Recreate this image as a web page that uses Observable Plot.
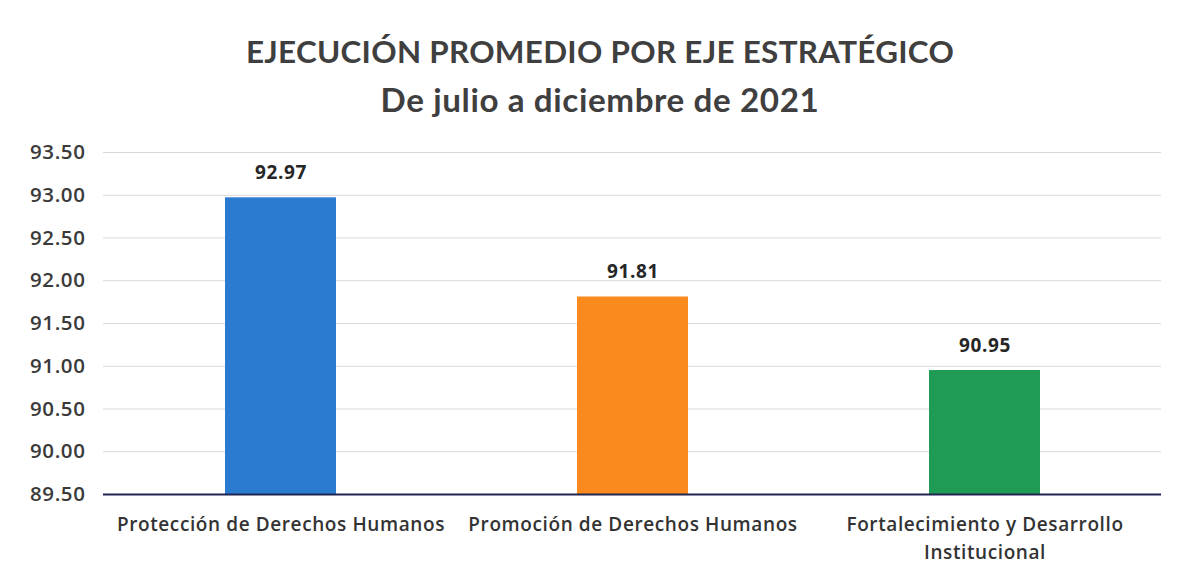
<!DOCTYPE html>
<html>
<head>
<meta charset="utf-8">
<script src="https://cdn.jsdelivr.net/npm/d3@7"></script>
<script src="https://cdn.jsdelivr.net/npm/@observablehq/plot@0.6"></script>
<style>
  html, body { margin: 0; padding: 0; background: #fff; }
  body { width: 1182px; height: 579px; overflow: hidden; font-family: Lato, "Open Sans", sans-serif; }
  #title { height: 130px; text-align: center; color: #3f3f3f; font-weight: 700; box-sizing: border-box; padding-top: 27px; padding-left: 18px; }
  #t1 { font-size: 31.4px; line-height: 48px; letter-spacing: 0.3px; }
  #t2 { font-size: 33.2px; line-height: 48px; letter-spacing: 0.6px; }
  #chart svg text { letter-spacing: 0.6px; }
</style>
</head>
<body>
<div id="title">
  <div id="t1">EJECUCIÓN PROMEDIO POR EJE ESTRATÉGICO</div>
  <div id="t2">De julio a diciembre de 2021</div>
</div>
<div id="chart"></div>
<script>
const categories = ["Protección de Derechos Humanos", "Promoción de Derechos Humanos", "Fortalecimiento y Desarrollo Institucional"];
const tickLabels = ["Protección de Derechos Humanos", "Promoción de Derechos Humanos", "Fortalecimiento y Desarrollo\nInstitucional"];
const values = [92.97, 91.81, 90.95];
const colors = ["#2b7bd0", "#fa8a1e", "#1f9b55"];
const yTicks = [89.5, 90, 90.5, 91, 91.5, 92, 92.5, 93, 93.5];

const data = categories.map((c, i) => ({category: c, value: values[i], color: colors[i]}));
const labelOf = new Map(categories.map((c, i) => [c, tickLabels[i]]));

const chart = Plot.plot({
  width: 1182,
  height: 449,
  marginLeft: 103,
  marginRight: 21,
  marginTop: 22,
  marginBottom: 85,
  style: {fontFamily: "'Open Sans', Lato, sans-serif", background: "#fff"},
  x: {domain: categories, paddingInner: 0.685, paddingOuter: 0.3425, label: null},
  y: {domain: [89.5, 93.5], label: null},
  marks: [
    Plot.gridY(yTicks, {stroke: "#d9d9d9", strokeOpacity: 1, strokeWidth: 1.2}),
    Plot.barY(data, {x: "category", y1: 89.5, y2: "value", fill: "color"}),
    Plot.ruleY([89.5], {stroke: "#1f2450", strokeWidth: 2}),
    Plot.text(data, {x: "category", y: "value", text: d => d.value.toFixed(2), dy: -25, fontSize: 19, fontWeight: "bold", fill: "#262626"}),
    Plot.axisY(yTicks, {tickSize: 0, tickPadding: 18, tickFormat: d => d.toFixed(2), fontSize: 20.5, fill: "#3a3a3a", fontWeight: 600}),
    Plot.axisX({tickSize: 0, tickPadding: 17, tickFormat: d => labelOf.get(d), fontSize: 19, fill: "#333", fontWeight: 600, lineHeight: 1.45})
  ]
});
document.getElementById("chart").appendChild(chart);
</script>
</body>
</html>
